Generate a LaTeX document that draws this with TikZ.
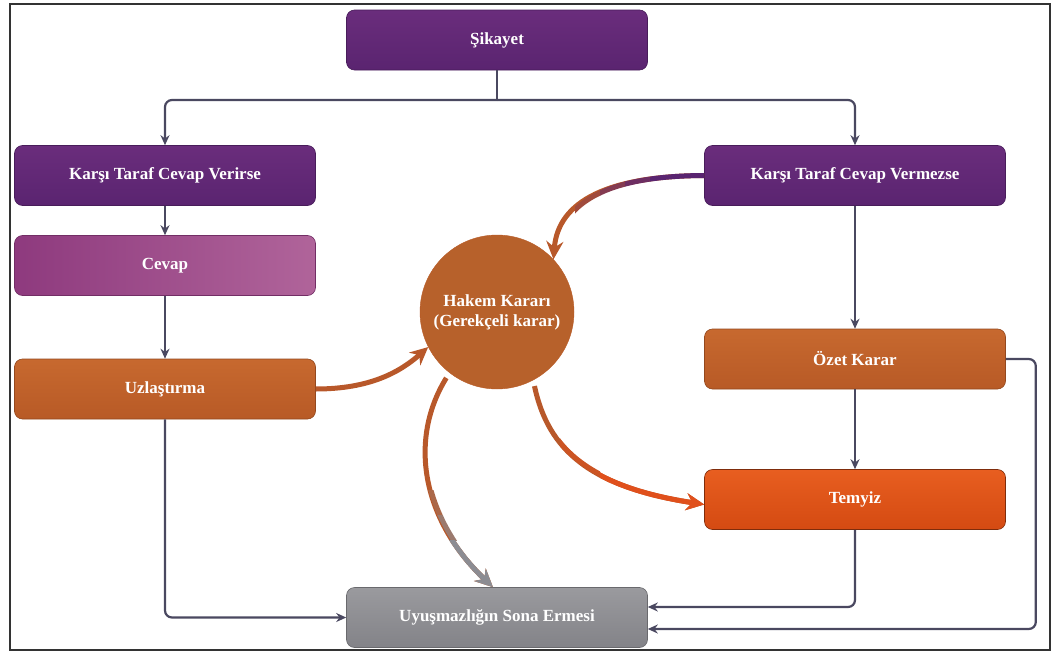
\documentclass[tikz,border=0pt]{standalone}
\usepackage{fontspec}
\setmainfont{Liberation Serif}
\usetikzlibrary{arrows.meta}
\definecolor{purpA}{HTML}{6A2D7C}
\definecolor{purpB}{HTML}{5A2470}
\definecolor{cevL}{HTML}{8E3A7E}
\definecolor{cevR}{HTML}{B0649A}
\definecolor{orA}{HTML}{C7692F}
\definecolor{orB}{HTML}{B85A26}
\definecolor{temA}{HTML}{E85E20}
\definecolor{temB}{HTML}{D44A12}
\definecolor{grA}{HTML}{9A9A9E}
\definecolor{grB}{HTML}{838388}
\definecolor{lineC}{HTML}{4A4860}
\definecolor{curveOr}{HTML}{B8582A}
\definecolor{curveRed}{HTML}{E0501C}
\definecolor{curveGr}{HTML}{8C8C92}
\tikzset{
  box/.style={rectangle, rounded corners=8pt, minimum width=301pt, minimum height=60pt,
    text=white, font=\fontsize{17}{20}\selectfont\bfseries, line width=0.6pt},
  conn/.style={draw=lineC, line width=2.2pt, rounded corners=7pt,
    -{Stealth[length=10pt,width=9pt]}},
  thick curve/.style={line width=5pt, -{Stealth[length=18pt,width=17pt,inset=6pt]}},
  plain curve/.style={line width=5pt}
}
\begin{document}
\begin{tikzpicture}[x=1pt,y=-1pt]
\useasboundingbox (0,0) rectangle (1055,653);
\draw[line width=1.5pt, draw=black!80] (10,4) rectangle (1050,650);

% nodes
\node[box, top color=purpA, bottom color=purpB, draw=purpB!80!black] (sik) at (497,40) {Şikayet};
\node[box, top color=purpA, bottom color=purpB, draw=purpB!80!black] (ver) at (165,175.5) {Karşı Taraf Cevap Verirse};
\node[box, left color=cevL, right color=cevR, draw=cevL!80!black] (cev) at (165,265.5) {Cevap};
\node[box, top color=orA, bottom color=orB, draw=orB!80!black] (uzl) at (165,389) {Uzlaştırma};
\node[box, top color=purpA, bottom color=purpB, draw=purpB!80!black] (verm) at (855,175.5) {Karşı Taraf Cevap Vermezse};
\node[box, top color=orA, bottom color=orB, draw=orB!80!black] (ozet) at (855,359) {Özet Karar};
\node[box, top color=temA, bottom color=temB, draw=temB!60!black] (tem) at (855,499.5) {Temyiz};
\node[box, top color=grA, bottom color=grB, draw=grB!80!black] (uyu) at (497,617.5) {Uyuşmazlığın Sona Ermesi};
\node[circle, minimum size=154pt, inner sep=0pt, fill=orA!92!black, draw=orB,
      text=white, font=\fontsize{17}{20}\selectfont\bfseries, align=center]
      (hak) at (497,312) {Hakem Kararı\\(Gerekçeli karar)};

% straight connectors
\coordinate (split) at (497,100);
\draw[conn, -] (sik.south) -- (split);
\draw[conn] (split) -| (ver.north);
\draw[conn] (split) -| (verm.north);
\draw[conn] (ver.south) -- (cev.north);
\draw[conn] (cev.south) -- (uzl.north);
\draw[conn] (uzl.south) |- (uyu.west);
\draw[conn] (verm.south) -- (ozet.north);
\draw[conn] (ozet.south) -- (tem.north);
\draw[conn] (tem.south) |- ([yshift=10.5pt]uyu.east);
\draw[conn] (ozet.east) -- ++(30,0) |- ([yshift=-11.5pt]uyu.east);

% curve: Vermezse -> Hakem (purple to orange)
\draw[thick curve, draw=curveOr] (verm.west) .. controls (610,176) and (558,200) .. (hak.43);
\begin{scope}
  \clip (575,0) rectangle (600,653);
  \draw[plain curve, draw=purpB!25!curveOr] (verm.west) .. controls (610,176) and (558,200) .. (hak.43);
\end{scope}
\begin{scope}
  \clip (600,0) rectangle (625,653);
  \draw[plain curve, draw=purpB!55!curveOr] (verm.west) .. controls (610,176) and (558,200) .. (hak.43);
\end{scope}
\begin{scope}
  \clip (625,0) rectangle (650,653);
  \draw[plain curve, draw=purpB!80!curveOr] (verm.west) .. controls (610,176) and (558,200) .. (hak.43);
\end{scope}
\begin{scope}
  \clip (650,0) rectangle (710,653);
  \draw[plain curve, draw=purpB] (verm.west) .. controls (610,176) and (558,200) .. (hak.43);
\end{scope}

% curve: Uzlaştırma -> Hakem
\draw[thick curve, draw=curveOr] (uzl.east) .. controls (370,389) and (400,372) .. (hak.207);

% curve: Hakem -> Uyuşmazlık (orange to gray)
\draw[thick curve, draw=curveOr, shorten <=6pt] (hak.232) .. controls (408,440) and (422,520) .. ([xshift=-4pt]uyu.north);
\begin{scope}
  \clip (0,490) rectangle (1055,515);
  \draw[plain curve, draw=curveOr!70!curveGr, shorten <=6pt] (hak.232) .. controls (408,440) and (422,520) .. ([xshift=-4pt]uyu.north);
\end{scope}
\begin{scope}
  \clip (0,515) rectangle (1055,540);
  \draw[plain curve, draw=curveOr!35!curveGr, shorten <=6pt] (hak.232) .. controls (408,440) and (422,520) .. ([xshift=-4pt]uyu.north);
\end{scope}
\begin{scope}
  \clip (0,540) rectangle (1055,653);
  \draw[thick curve, draw=curveGr, shorten <=6pt] (hak.232) .. controls (408,440) and (422,520) .. ([xshift=-4pt]uyu.north);
\end{scope}

% curve: Hakem -> Temyiz (orange to red)
\draw[thick curve, draw=curveOr, shorten <=6pt] (hak.298) .. controls (548,450) and (590,487) .. ([yshift=-5pt]tem.west);
\begin{scope}
  \clip (560,0) rectangle (600,653);
  \draw[plain curve, draw=curveOr!50!curveRed, shorten <=6pt] (hak.298) .. controls (548,450) and (590,487) .. ([yshift=-5pt]tem.west);
\end{scope}
\begin{scope}
  \clip (600,0) rectangle (1055,653);
  \draw[thick curve, draw=curveRed, shorten <=6pt] (hak.298) .. controls (548,450) and (590,487) .. ([yshift=-5pt]tem.west);
\end{scope}
\end{tikzpicture}
\end{document}
